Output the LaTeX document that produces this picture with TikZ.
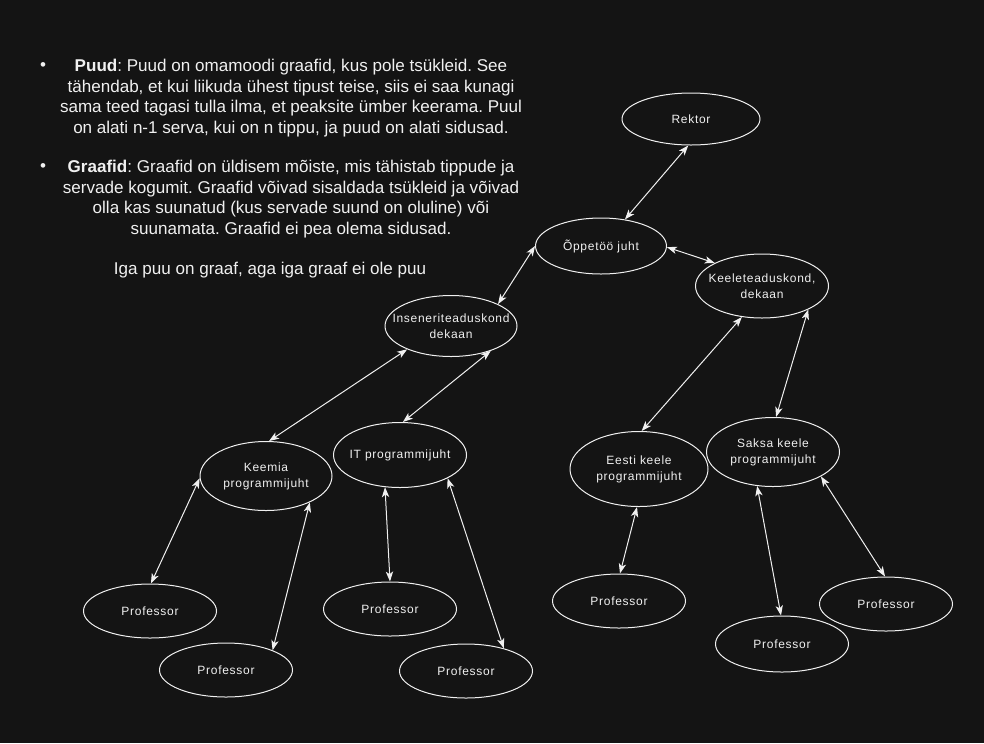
\documentclass[tikz,border=0pt]{standalone}
\usepackage{fontspec}
\setmainfont{Liberation Sans}
\newfontfamily\ovalfont[LetterSpace=6]{Liberation Sans}
\usetikzlibrary{shapes.geometric, arrows.meta}
\definecolor{bg}{HTML}{141414}
\definecolor{fg}{HTML}{F0F0F0}
\frenchspacing

\begin{document}
\begin{tikzpicture}[x=0.75pt,y=-0.75pt,
  oval/.style={ellipse, draw=fg, line width=0.75pt, inner sep=0pt, minimum width=99.75pt, minimum height=40.5pt},
  ovallabel/.style={text=fg, font=\ovalfont\fontsize{9}{12}\selectfont, align=center, inner sep=0pt},
  para/.style={text=fg, font=\fontsize{12.8}{15.4}\selectfont, align=center, inner sep=0pt},
  link/.style={draw=fg, line width=0.75pt, {Stealth[length=7.5pt,width=5.5pt,inset=2pt]}-{Stealth[length=7.5pt,width=5.5pt,inset=2pt]}}]

\fill[bg] (0,0) rectangle (984,743);
\useasboundingbox (0,0) rectangle (984,743);

% Text
\node[para] (bulletA) at (43,67) {\textbullet};
\node[para] (bulletB) at (43,168) {\textbullet};
\node[para] (puud) at (291,98) {\textbf{Puud}: Puud on omamoodi graafid, kus pole tsükleid. See\\
  tähendab, et kui liikuda ühest tipust teise, siis ei saa kunagi\\
  sama teed tagasi tulla ilma, et peaksite ümber keerama. Puul\\
  on alati n-1 serva, kui on n tippu, ja puud on alati sidusad.};
\node[para] (graafid) at (291,199) {\textbf{Graafid}: Graafid on üldisem mõiste, mis tähistab tippude ja\\
  servade kogumit. Graafid võivad sisaldada tsükleid ja võivad\\
  olla kas suunatud (kus servade suund on oluline) või\\
  suunamata. Graafid ei pea olema sidusad.};
\node[para] (kokkuvote) at (270,270) {Iga puu on graaf, aga iga graaf ei ole puu};

% Juhid
\node[oval, minimum width=103.5pt, minimum height=39pt, label={[ovallabel]center:Rektor}] (rektor) at (691,119) {};
\node[oval, minimum width=98.25pt, minimum height=42pt, label={[ovallabel]center:Õppetöö juht}] (oppejuht) at (601,246) {};
\node[oval, minimum width=99.75pt, minimum height=48pt, label={[ovallabel]center:{Keeleteaduskond,\\dekaan}}] (keeledekaan) at (762,286) {};
\node[oval, minimum width=99pt, minimum height=45.75pt, label={[ovallabel]center:{Inseneriteaduskond\\dekaan}}] (insdekaan) at (451,326) {};

% Programmijuhid
\node[oval, minimum width=99pt, minimum height=51.75pt, label={[ovallabel]center:{Keemia\\programmijuht}}] (keemia) at (266,476) {};
\node[oval, minimum width=99.75pt, minimum height=48.75pt, label={[ovallabel]center:IT programmijuht}] (it) at (400,455) {};
\node[oval, minimum width=103.5pt, minimum height=56.25pt, label={[ovallabel]center:{Eesti keele\\programmijuht}}] (eesti) at (639,469) {};
\node[oval, minimum width=99.75pt, minimum height=51.75pt, label={[ovallabel]center:{Saksa keele\\programmijuht}}] (saksa) at (773,452) {};

% Professorid
\node[oval, label={[ovallabel]center:Professor}] (keemiaprofA) at (150,611) {};
\node[oval, label={[ovallabel]center:Professor}] (keemiaprofB) at (226,670) {};
\node[oval, label={[ovallabel]center:Professor}] (itprofA) at (390,609) {};
\node[oval, label={[ovallabel]center:Professor}] (itprofB) at (466,671) {};
\node[oval, label={[ovallabel]center:Professor}] (eestiprof) at (619,601) {};
\node[oval, minimum height=42pt, label={[ovallabel]center:Professor}] (saksaprofA) at (782,644) {};
\node[oval, label={[ovallabel]center:Professor}] (saksaprofB) at (886,604) {};

% Seosed
\draw[link] (rektor.264) -- (oppejuht.48);
\draw[link] (oppejuht.359) -- (keeledekaan.154);
\draw[link] (oppejuht.180) -- (insdekaan.25);
\draw[link] (insdekaan.208) -- (keemia.85);
\draw[link] (insdekaan.328) -- (it.85);
\draw[link] (keemia.182) -- (keemiaprofA.88);
\draw[link] (keemia.329) -- (keemiaprofB.23);
\draw[link] (it.245) -- (itprofA.90);
\draw[link] (it.334) -- (itprofB.31);
\draw[link] (keeledekaan.237) -- (eesti.86);
\draw[link] (keeledekaan.333) -- (saksa.85);
\draw[link] (eesti.267) -- (eestiprof.88);
\draw[link] (saksa.245) -- (saksaprofA.92);
\draw[link] (saksa.333) -- (saksaprofB.92);

\end{tikzpicture}
\end{document}
